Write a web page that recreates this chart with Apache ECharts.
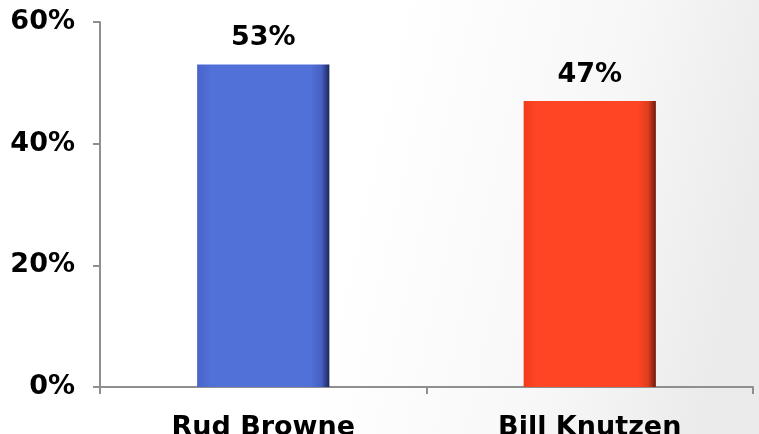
<!DOCTYPE html>
<html>
<head>
<meta charset="utf-8">
<script src="https://cdn.jsdelivr.net/npm/echarts@6/dist/echarts.min.js"></script>
<style>
html,body{margin:0;padding:0;background:#fff;}
#c{width:759px;height:434px;}
</style>
</head>
<body>
<div id="c"></div>
<script>
const categories = ['Rud Browne', 'Bill Knutzen'];
const values = [53, 47];
const yTicks = [0, 20, 40, 60];

const barColors = [
  ['#4a63c9', '#5170d8', '#5170d8', '#4660c4', '#1c2658'],
  ['#f03c1c', '#ff4524', '#ff4524', '#e23d1f', '#6e1a0c']
];
function grad(c) {
  return {
    type: 'linear', x: 0, y: 0, x2: 1, y2: 0,
    colorStops: [
      { offset: 0, color: c[0] },
      { offset: 0.1, color: c[1] },
      { offset: 0.86, color: c[2] },
      { offset: 0.94, color: c[3] },
      { offset: 1, color: c[4] }
    ]
  };
}

const chart = echarts.init(document.getElementById('c'));
chart.setOption({
  animation: false,
  backgroundColor: {
    type: 'linear', x: 0, y: 0, x2: 1, y2: 0.4,
    colorStops: [
      { offset: 0, color: '#ffffff' },
      { offset: 0.5, color: '#ffffff' },
      { offset: 0.8, color: '#f7f7f7' },
      { offset: 1, color: '#ebebeb' }
    ]
  },
  grid: { left: 100, right: 6, top: 22, bottom: 47, containLabel: false, outerBoundsMode: 'none' },
  xAxis: {
    type: 'category',
    data: categories,
    axisLine: { lineStyle: { color: '#8f8f8f', width: 2 } },
    axisTick: { show: true, length: 7, lineStyle: { color: '#8f8f8f', width: 2 } },
    axisLabel: {
      margin: 27,
      color: '#000',
      fontFamily: 'DejaVu Sans',
      fontWeight: 'bold',
      fontSize: 27
    }
  },
  yAxis: {
    type: 'value',
    min: yTicks[0],
    max: yTicks[yTicks.length - 1],
    interval: 20,
    splitLine: { show: false },
    axisLine: { show: true, lineStyle: { color: '#8f8f8f', width: 2 } },
    axisTick: { show: true, length: 7, lineStyle: { color: '#8f8f8f', width: 2 } },
    axisLabel: {
      margin: 25,
      color: '#000',
      fontFamily: 'DejaVu Sans',
      fontWeight: 'bold',
      fontSize: 27,
      formatter: '{value}%'
    }
  },
  series: [{
    type: 'bar',
    barWidth: '40.5%',
    data: values.map((v, i) => ({
      value: v,
      itemStyle: { color: grad(barColors[i]) }
    })),
    label: {
      show: true,
      position: 'top',
      distance: 13,
      color: '#000',
      fontFamily: 'DejaVu Sans',
      fontWeight: 'bold',
      fontSize: 27,
      formatter: '{c}%'
    }
  }]
});
</script>
</body>
</html>
